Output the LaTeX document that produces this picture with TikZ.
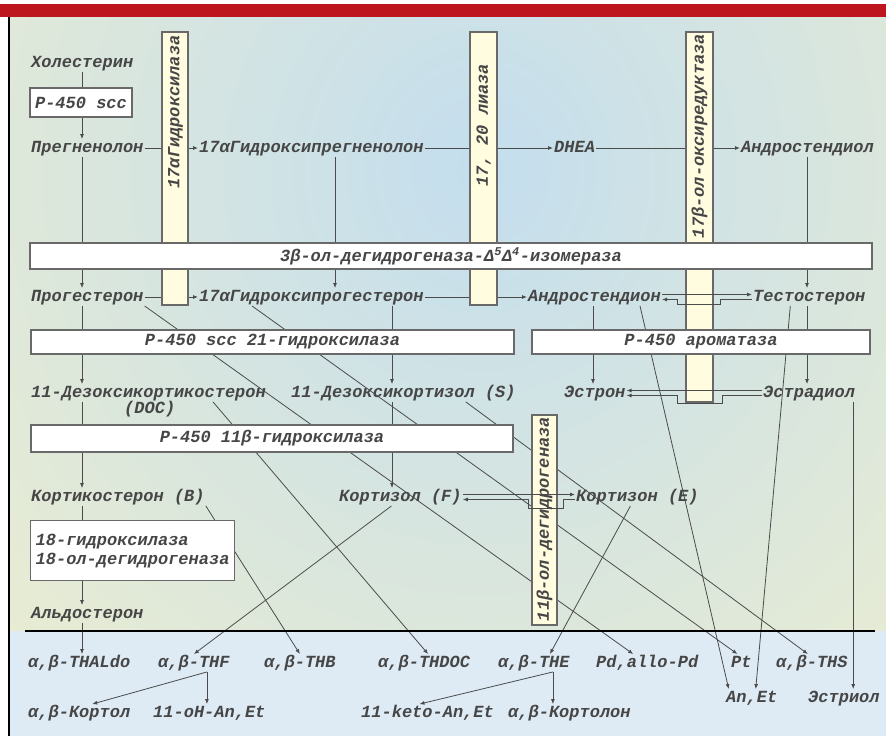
\documentclass[tikz,border=0pt]{standalone}
\usepackage{fontspec}
\usetikzlibrary{arrows.meta}
\newfontfamily\chemmono{Liberation Mono}
\newcommand\chemfont{\chemmono\bfseries\itshape\fontsize{17}{19}\selectfont}
\definecolor{redbar}{RGB}{190,22,30}
\definecolor{panelblue}{RGB}{196,222,238}
\definecolor{panelcream}{RGB}{243,240,202}
\definecolor{lowblue}{RGB}{222,235,245}
\definecolor{inkgray}{RGB}{70,70,70}
\definecolor{linegray}{RGB}{75,75,75}
\definecolor{boxgray}{RGB}{105,105,105}
\definecolor{barfill}{RGB}{255,252,224}
\begin{document}
\begin{tikzpicture}[x=1pt,y=-1pt,
    chem/.style={font=\chemfont, text=inkgray, inner sep=1pt, anchor=west,
      text height=12pt, text depth=3.5pt},
    enz/.style={draw=boxgray, line width=1.3pt, fill=white, font=\chemfont,
      text=inkgray, inner sep=0pt},
    enzbar/.style={draw=boxgray, line width=1.2pt, fill=barfill, inner sep=0pt},
    link/.style={draw=linegray, line width=0.8pt},
    conv/.style={link, -{Latex[length=5pt,width=4pt]}}]

  \useasboundingbox (0,0) rectangle (886,736);

  % background: red band, shaded upper panel, blue lower panel
  \fill[white] (0,0) rectangle (886,736);
  \fill[redbar] (0,4) rectangle (886,17);
  \begin{scope}
    \clip (9,17) rectangle (886,631);
    \shade[inner color=panelblue, outer color=panelcream] (-360,-730) rectangle (1320,1070);
  \end{scope}
  \fill[lowblue] (9,631) rectangle (886,736);
  \draw[line width=1.5pt] (9,17) -- (9,736);

  % columns of the vertical steps
  \coordinate (colA) at (82,0);
  \coordinate (colB) at (335,0);
  \coordinate (colC) at (392,0);
  \coordinate (colD) at (593,0);
  \coordinate (colE) at (807,0);

  % steroids
  \node[chem] (chol) at (30,63) {Холестерин};
  \node[chem] (preg) at (30,148) {Прегненолон};
  \node[chem] (ohpreg) at (198,148) {17αГидроксипрегненолон};
  \node[chem] (dhea) at (553,148) {DHEA};
  \node[chem] (adiol) at (740,148) {Андростендиол};
  \node[chem] (prog) at (30,297) {Прогестерон};
  \node[chem] (ohprog) at (198,297) {17αГидроксипрогестерон};
  \node[chem] (adione) at (527,297) {Андростендион};
  \node[chem] (testo) at (752,297) {Тестостерон};
  \node[chem] (doc) at (30,393) {11-Дезоксикортикостерон};
  \node[chem] (doclbl) at (123,409) {(DOC)};
  \node[chem] (s11) at (290,393) {11-Дезоксикортизол (S)};
  \node[chem] (estrone) at (563,393) {Эстрон};
  \node[chem] (estradiol) at (762,393) {Эстрадиол};
  \node[chem] (cortico) at (30,497) {Кортикостерон (B)};
  \node[chem] (cortisol) at (338,497) {Кортизол (F)};
  \node[chem] (cortisone) at (575,497) {Кортизон (E)};
  \node[chem] (aldo) at (30,614) {Альдостерон};

  % urinary metabolites
  \node[chem] (thaldo) at (27,663) {α,β-THALdo};
  \node[chem] (thf) at (157,663) {α,β-THF};
  \node[chem] (thb) at (263,663) {α,β-THB};
  \node[chem] (thdoc) at (377,663) {α,β-THDOC};
  \node[chem] (the) at (497,663) {α,β-THE};
  \node[chem] (pd) at (595,663) {Pd,allo-Pd};
  \node[chem] (pt) at (730,663) {Pt};
  \node[chem] (ths) at (775,663) {α,β-THS};
  \node[chem] (anet) at (725,698) {An,Et};
  \node[chem] (estriol) at (807,698) {Эстриол};
  \node[chem] (cortol) at (27,713) {α,β-Кортол};
  \node[chem] (ohanet) at (152,713) {11-oH-An,Et};
  \node[chem] (ketoanet) at (360,713) {11-keto-An,Et};
  \node[chem] (cortolon) at (507,713) {α,β-Кортолон};

  % vertical steps (enzyme boxes are drawn over them)
  \draw[conv] (chol.south -| colA) -- (preg.north -| colA);
  \draw[conv] (preg.south -| colA) -- (prog.north -| colA);
  \draw[conv] (prog.south -| colA) -- (doc.north -| colA);
  \draw[conv] (doc.south -| colA) -- (cortico.north -| colA);
  \draw[conv] (cortico.south -| colA) -- (aldo.north -| colA);
  \draw[conv] (aldo.south -| colA) -- (thaldo.north -| colA);
  \draw[conv] (ohpreg.south -| colB) -- (ohprog.north -| colB);
  \draw[conv] (ohprog.south -| colC) -- (s11.north -| colC);
  \draw[conv] (s11.south -| colC) -- (cortisol.north -| colC);
  \draw[conv] (adione.south -| colD) -- (estrone.north -| colD);
  \draw[conv] (adiol.south -| colE) -- (testo.north -| colE);
  \draw[conv] (testo.south -| colE) -- (estradiol.north -| colE);

  % horizontal steps (passing under the bars)
  \draw[conv] (preg) -- (ohpreg);
  \draw[conv] (ohpreg) -- (dhea);
  \draw[conv] (dhea) -- (adiol);
  \draw[conv] (prog) -- (ohprog);
  \draw[conv] (ohprog) -- (adione);

  % routes to the urinary metabolites
  \draw[conv] (prog.south east) -- ([xshift=-14pt]pd.north);
  \draw[conv] ([xshift=54pt]ohprog.south west) -- ([xshift=-4pt]pt.north);
  \draw[conv] ([xshift=-54pt]doc.south east) -- ([xshift=4pt]thdoc.north);
  \draw[conv] ([xshift=-51pt]s11.south east) -- ([xshift=-4pt]ths.north);
  \draw[conv] (cortico.south east) -- (thb.north);
  \draw[conv] ([xshift=-9pt]cortisol.south) -- (thf.north);
  \draw[conv] ([xshift=-7pt]cortisone.south) -- ([xshift=16pt]the.north);
  \draw[conv] ([xshift=-22pt]adione.south east) -- ([xshift=-23pt]anet.north);
  \draw[conv] ([xshift=-19pt]testo.south) -- ([xshift=4pt]anet.north);
  \draw[conv] ([xshift=-3pt]estradiol.south east) -- ([xshift=-3pt]estradiol.south east |- estriol.north);

  % vertical enzyme bars
  \node[enzbar, minimum width=26, minimum height=273] (bar17a) at (175,168.5) {};
  \node[chem, rotate=90, anchor=center] (bar17a-txt) at (175,112) {17αГидроксилаза};
  \node[enzbar, minimum width=27, minimum height=273] (bar1720) at (483.5,168.5) {};
  \node[chem, rotate=90, anchor=center] (bar1720-txt) at (483.5,125) {17, 20 лиаза};
  \node[enzbar, minimum width=27, minimum height=370] (bar17b) at (699.5,217) {};
  \node[chem, rotate=90, anchor=center] (bar17b-txt) at (699.5,136) {17β-ол-оксиредуктаза};
  \node[enzbar, minimum width=25, minimum height=210] (bar11b) at (544.5,520) {};
  \node[chem, rotate=90, anchor=center] (bar11b-txt) at (544.5,519) {11β-ол-дегидрогеназа};

  % enzyme boxes
  \node[enz, minimum width=102, minimum height=29] (scc) at (81,102.5) {P-450 scc};
  \node[enz, minimum width=842, minimum height=26] (hsd3) at (451,256)
    {3β-ол-дегидрогеназа-Δ\textsuperscript{5}Δ\textsuperscript{4}-изомераза};
  \node[enz, minimum width=483, minimum height=24] (cyp21) at (272.5,342) {P-450 scc 21-гидроксилаза};
  \node[enz, minimum width=338, minimum height=24] (arom) at (701,342) {P-450 ароматаза};
  \node[enz, minimum width=482, minimum height=27] (cyp11b) at (272,438.5) {P-450 11β-гидроксилаза};
  \node[enz, minimum width=203, minimum height=60, align=left, anchor=north west,
    inner sep=5pt] (cyp18) at (30,520) {18-гидроксилаза\\18-ол-дегидрогеназа};

  % reversible steps, drawn over the bars
  \draw[conv] ([yshift=2.5pt]adione.east) -- ([yshift=2.5pt]testo.west);
  \draw[conv] ([yshift=-2.5pt]testo.west) -| (720,304) -- (677,304) |- ([yshift=-2.5pt]adione.east);
  \draw[conv] ([yshift=2.5pt]estradiol.west) -- ([yshift=2.5pt]estrone.east);
  \draw[conv] ([yshift=-2.5pt]estradiol.west) -| (722,403) -- (677,403) |- ([yshift=-2.5pt]estrone.east);
  \draw[conv] ([yshift=2.5pt]cortisol.east) -- ([yshift=2.5pt]cortisone.west);
  \draw[conv] ([yshift=-2.5pt]cortisone.west) -| (563,508) -- (528,508) |- ([yshift=-2.5pt]cortisol.east);

  % blood / urine divide
  \draw[line width=2.2pt] (25,631) -- (875,631);

  % further breakdown of THF and THE
  \draw[conv] ([xshift=13pt]thf.south) -- ([xshift=13pt]cortol.north);
  \draw[conv] ([xshift=13pt]thf.south) -- ([xshift=13pt]thf.south |- ohanet.north);
  \draw[conv] ([xshift=19pt]the.south) -- ([xshift=-8pt]ketoanet.north);
  \draw[conv] ([xshift=19pt]the.south) -- ([xshift=19pt]the.south |- cortolon.north);

\end{tikzpicture}
\end{document}
